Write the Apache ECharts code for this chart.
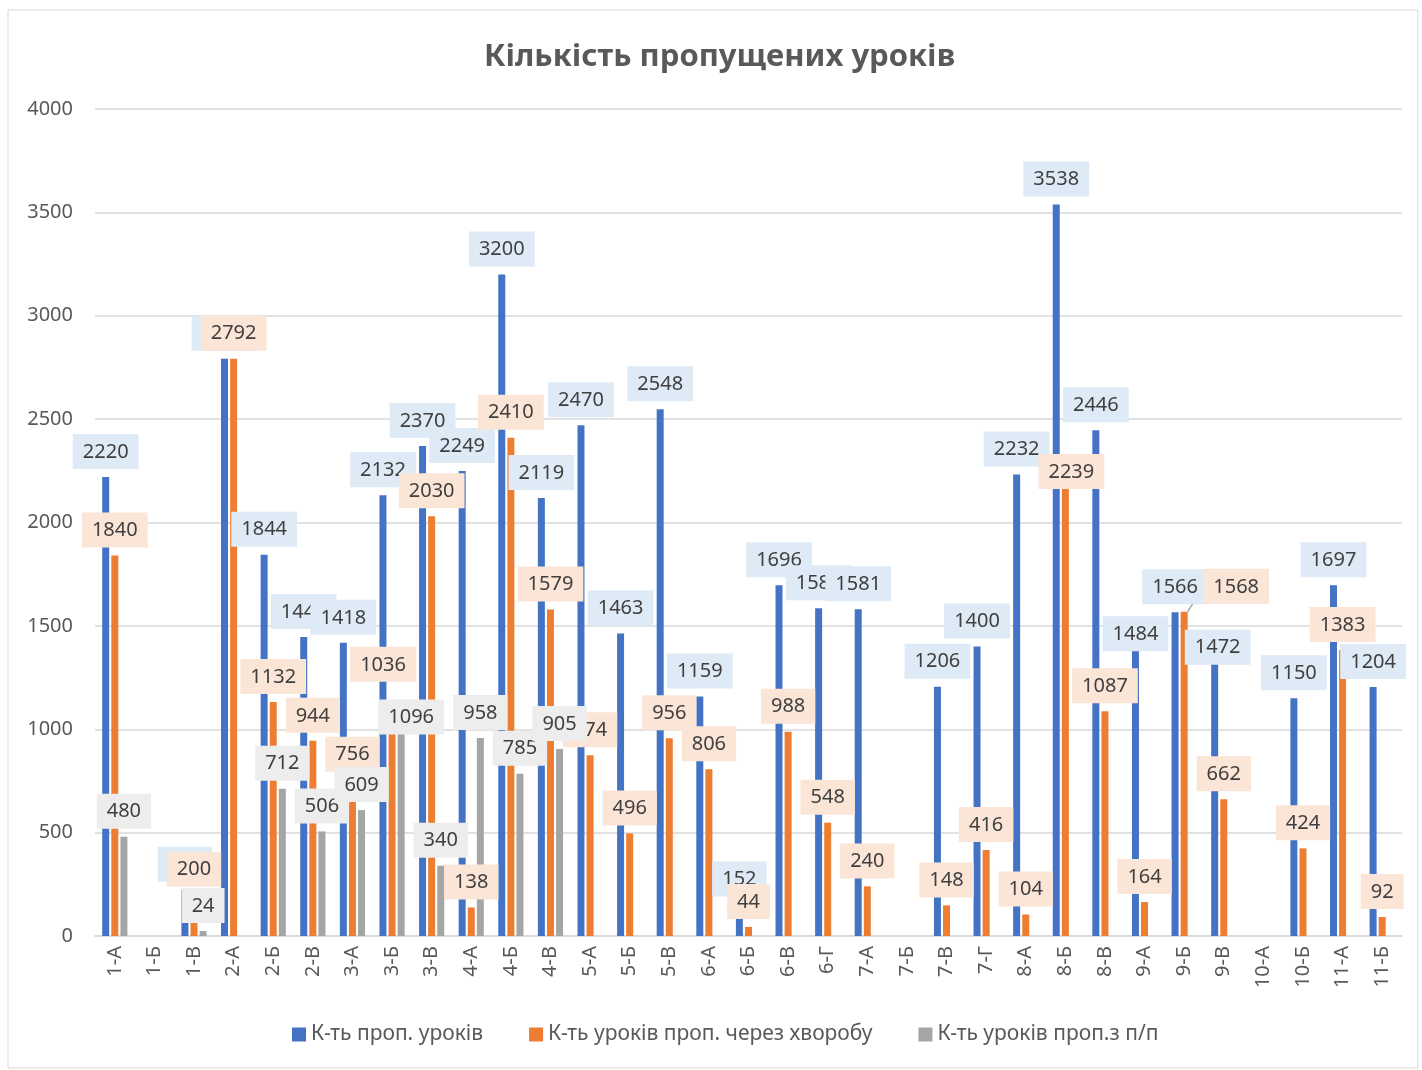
<!DOCTYPE html>
<html>
<head>
<meta charset="utf-8">
<script src="https://cdn.jsdelivr.net/npm/echarts@6/dist/echarts.min.js"></script>
<style>
  body { margin: 0; background: #fff; }
  #chart { width: 1422px; height: 1070px; }
</style>
</head>
<body>
<div id="chart"></div>
<script>
// classes
var classes = ["1-А","1-Б","1-В","2-А","2-Б","2-В","3-А","3-Б","3-В","4-А","4-Б","4-В",
  "5-А","5-Б","5-В","6-А","6-Б","6-В","6-Г","7-А","7-Б","7-В","7-Г","8-А","8-Б","8-В",
  "9-А","9-Б","9-В","10-А","10-Б","11-А","11-Б"];

// К-ть проп. уроків
var totalMissed = [2220,null,224,2792,1844,1446,1418,2132,2370,2249,3200,2119,
  2470,1463,2548,1159,152,1696,1585,1581,null,1206,1400,2232,3538,2446,
  1484,1566,1472,null,1150,1697,1204];

// К-ть уроків проп. через хворобу
var illnessMissed = [1840,null,200,2792,1132,944,756,1036,2030,138,2410,1579,
  874,496,956,806,44,988,548,240,null,148,416,104,2239,1087,
  164,1568,662,null,424,1383,92];

// К-ть уроків проп.з п/п
var reasonMissed = [480,null,24,null,712,506,609,1096,340,958,785,905,
  null,null,null,null,null,null,null,null,null,null,null,null,null,null,
  null,null,null,null,null,null,null];

var seriesNames = ["К-ть проп. уроків", "К-ть уроків проп. через хворобу", "К-ть уроків проп.з п/п"];

// labels that were dragged by hand in the original: series -> class -> [dx, dy]
var movedLabels = [
  { "9-А": [0, 30], "9-В": [3, 41] },
  { "3-Б": [-9, -32], "8-Б": [6, 24], "9-Б": [52, 0] },
  { "3-Б": [10, 33] }
];
var withLeader = [[], ["3-Б", "9-Б"], []];

var font = "'Noto Sans', sans-serif";

function labelStyle(bg) {
  return {
    show: true,
    position: "top",
    distance: 8,
    color: "#404040",
    fontSize: 20,
    fontFamily: font,
    backgroundColor: bg,
    padding: [8, 10, 7, 10]
  };
}

function withLines(values, s) {
  return values.map(function (v, i) {
    if (withLeader[s].indexOf(classes[i]) >= 0) {
      return { value: v, labelLine: { show: true } };
    }
    return v;
  });
}

function layoutFor(s) {
  return function (params) {
    var m = movedLabels[s][classes[params.dataIndex]];
    return m ? { dx: m[0], dy: m[1] } : {};
  };
}

var chart = echarts.init(document.getElementById("chart"));
chart.setOption({
  backgroundColor: "#fff",
  animation: false,
  title: {
    text: "Кількість пропущених уроків",
    left: 479,
    top: 37,
    textStyle: { fontSize: 31, fontWeight: "bold", color: "#595959", fontFamily: font }
  },
  legend: {
    bottom: 20,
    left: 287,
    itemWidth: 14,
    itemHeight: 14,
    itemGap: 46,
    icon: "rect",
    textStyle: { fontSize: 21, color: "#595959", fontFamily: font }
  },
  grid: { left: 95, right: 20, top: 109, bottom: 134 },
  xAxis: {
    type: "category",
    data: classes,
    axisTick: { show: false },
    axisLine: { lineStyle: { color: "#d9d9d9", width: 1.5 } },
    axisLabel: { interval: 0, rotate: 90, margin: 10, fontSize: 20, color: "#595959", fontFamily: font }
  },
  yAxis: {
    type: "value",
    min: 0,
    max: 4000,
    interval: 500,
    axisLine: { show: false },
    axisTick: { show: false },
    splitLine: { lineStyle: { color: "#d9d9d9", width: 1.5 } },
    axisLabel: { fontSize: 20, color: "#595959", margin: 22, fontFamily: font,
      formatter: function (v) { return String(v); } }
  },
  graphic: [{
    type: "rect",
    shape: { x: 8, y: 10, width: 1410, height: 1058 },
    style: { fill: "none", stroke: "#d9d9d9", lineWidth: 1 },
    silent: true
  }],
  series: [
    {
      name: seriesNames[0], type: "bar", data: withLines(totalMissed, 0),
      barWidth: 7, barGap: "30%",
      itemStyle: { color: "#4472c4" },
      label: labelStyle("#deeaf6"),
      labelLayout: layoutFor(0),
      labelLine: { show: false, lineStyle: { color: "#a5a5a5", width: 1.5 } }
    },
    {
      name: seriesNames[1], type: "bar", data: withLines(illnessMissed, 1),
      barWidth: 7, barGap: "30%",
      itemStyle: { color: "#ed7d31" },
      label: labelStyle("#fbe5d6"),
      labelLayout: layoutFor(1),
      labelLine: { show: false, lineStyle: { color: "#a5a5a5", width: 1.5 } }
    },
    {
      name: seriesNames[2], type: "bar", data: withLines(reasonMissed, 2),
      barWidth: 7, barGap: "30%",
      itemStyle: { color: "#a5a5a5" },
      label: labelStyle("#ededed"),
      labelLayout: layoutFor(2),
      labelLine: { show: false, lineStyle: { color: "#a5a5a5", width: 1.5 } }
    }
  ]
});
</script>
</body>
</html>
